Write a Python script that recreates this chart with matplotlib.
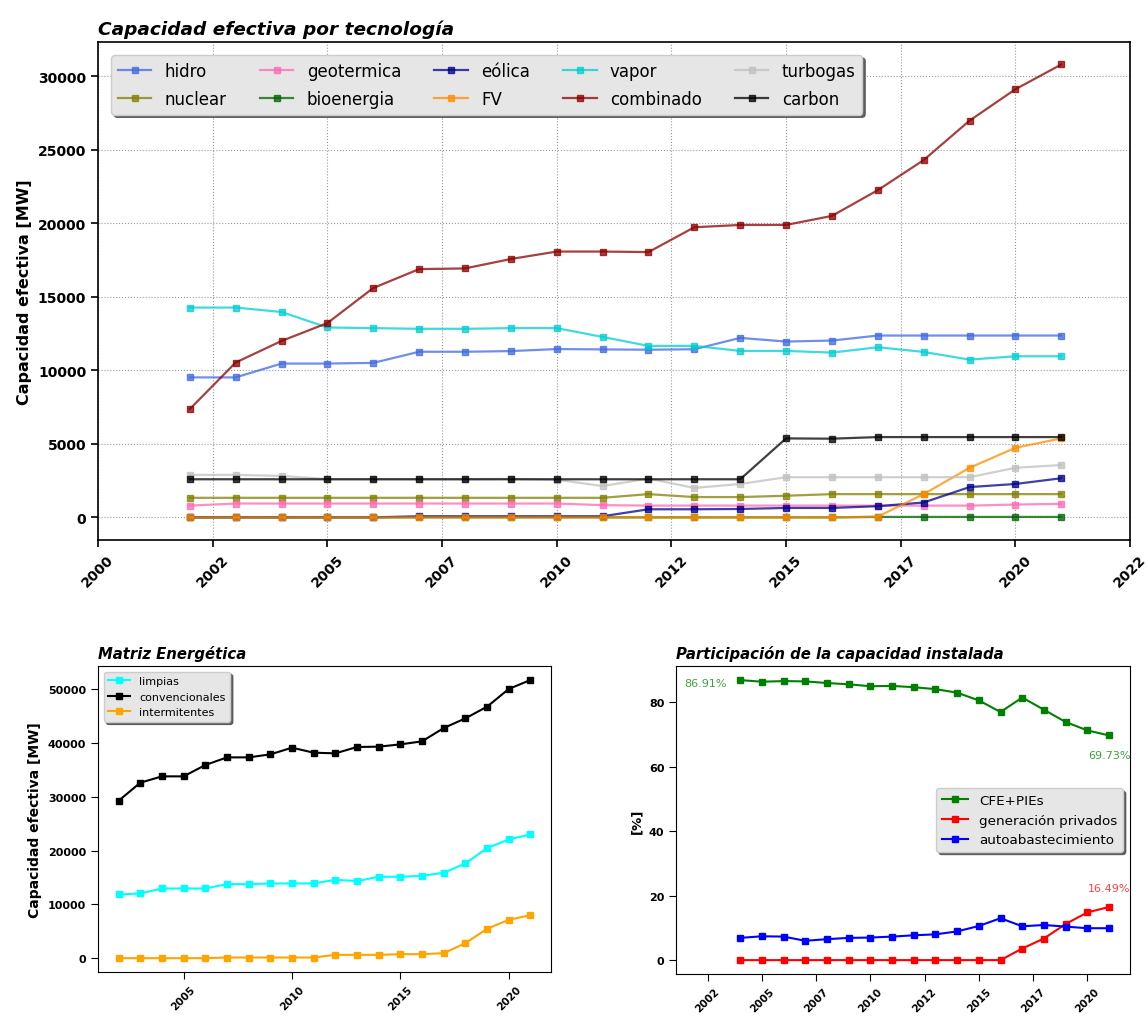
import numpy as np
import matplotlib
matplotlib.use('Agg')
import matplotlib.pyplot as plt
import matplotlib.ticker as mtick

years = list(range(2002, 2022))

# capacidad efectiva por tecnologia [MW]
hidro = [9518, 9518, 10459, 10459, 10505, 11262, 11262, 11307, 11445, 11422,
         11400, 11432, 12205, 11955, 12023, 12364, 12364, 12364, 12364, 12364]
geotermica = [800, 940, 940, 940, 940, 940, 940, 940, 940, 830,
              800, 800, 800, 800, 800, 800, 800, 800, 870, 920]
eolica = [2, 2, 2, 2, 2, 75, 75, 75, 75, 75,
          550, 550, 570, 640, 640, 760, 1010, 2060, 2270, 2660]
vapor = [14267, 14267, 13968, 12913, 12868, 12822, 12822, 12868, 12868, 12271,
         11660, 11660, 11318, 11318, 11205, 11568, 11250, 10727, 10955, 10955]
turbogas = [2890, 2890, 2820, 2600, 2600, 2600, 2600, 2620, 2560, 2130,
            2640, 2000, 2270, 2730, 2730, 2730, 2730, 2730, 3370, 3560]
nuclear = [1330, 1330, 1330, 1330, 1330, 1330, 1330, 1330, 1330, 1330,
           1580, 1380, 1380, 1470, 1580, 1580, 1580, 1580, 1580, 1580]
bioenergia = [0, 0, 0, 0, 0, 0, 0, 0, 0, 0,
              0, 0, 0, 0, 0, 30, 30, 30, 30, 30]
fv = [0, 0, 0, 0, 0, 0, 0, 0, 0, 0,
      0, 0, 0, 0, 0, 50, 1580, 3370, 4730, 5370]
combinado = [7362, 10528, 11996, 13212, 15597, 16882, 16928, 17570, 18075, 18075,
             18040, 19727, 19886, 19886, 20500, 22250, 24296, 26978, 29115, 30797]
carbon = [2590, 2590, 2590, 2590, 2590, 2590, 2590, 2590, 2590, 2590,
          2590, 2590, 2590, 5370, 5350, 5460, 5460, 5460, 5460, 5460]

# matriz energetica [MW]
limpias = [11850, 12030, 12960, 12960, 12960, 13770, 13770, 13890, 13890, 13890,
           14580, 14330, 15140, 15140, 15320, 15880, 17620, 20470, 22080, 23010]
convencionales = [29280, 32630, 33810, 33810, 35920, 37340, 37340, 37900, 39140, 38210,
                  38090, 39270, 39330, 39760, 40320, 42800, 44600, 46770, 50060, 51730]
intermitentes = [0, 0, 0, 0, 0, 120, 120, 120, 120, 120,
                 620, 620, 620, 740, 740, 930, 2790, 5460, 7130, 8000]

# participacion de la capacidad instalada [%]
years_part = list(range(2004, 2022))
cfe_pies = [86.91, 86.4, 86.6, 86.5, 86.0, 85.6, 85.0, 85.1, 84.7, 84.1,
            83.0, 80.6, 77.0, 81.5, 77.7, 73.9, 71.3, 69.73]
privados = [0, 0, 0, 0, 0, 0, 0, 0, 0, 0,
            0, 0, 0, 3.6, 6.7, 11.2, 14.8, 16.49]
autoabasto = [6.9, 7.4, 7.3, 6.0, 6.5, 6.9, 7.0, 7.3, 7.7, 8.0,
              8.9, 10.6, 13.0, 10.5, 10.9, 10.4, 9.9, 9.9]

year_fmt = mtick.FuncFormatter(lambda x, pos: str(int(np.floor(x))))
leg_kw = dict(shadow={'color': '#555555', 'alpha': 0.9}, facecolor='#e6e6e6',
              edgecolor='#cccccc', framealpha=1, fancybox=True)

fig = plt.figure(figsize=(11.48, 10.2), dpi=100)
ax1 = fig.add_axes([0.0854, 0.4696, 0.8990, 0.4884])
ax2 = fig.add_axes([0.0854, 0.046, 0.3946, 0.3])
ax3 = fig.add_axes([0.589, 0.044, 0.395, 0.302])

# --- capacidad por tecnologia
series = [('hidro', hidro, 'royalblue'), ('nuclear', nuclear, 'olive'),
          ('geotermica', geotermica, 'hotpink'), ('bioenergia', bioenergia, 'darkgreen'),
          ('eólica', eolica, 'darkblue'), ('FV', fv, 'darkorange'),
          ('vapor', vapor, 'darkturquoise'), ('combinado', combinado, 'darkred'),
          ('turbogas', turbogas, 'silver'), ('carbon', carbon, 'black')]
for name, vals, col in series:
    ax1.plot(years, vals, marker='s', markersize=4, lw=1.6, color=col, alpha=0.75, label=name)
ax1.set_xlim(2000, 2022.5)
ax1.set_xticks(np.arange(2000, 2022.6, 2.5))
ax1.xaxis.set_major_formatter(year_fmt)
ax1.grid(ls=':', color='gray', alpha=0.8)
ax1.set_title('Capacidad efectiva por tecnología', loc='left', fontsize=13.3,
              fontweight='bold', style='italic')
ax1.set_ylabel('Capacidad efectiva [MW]', fontsize=11.5, fontweight='bold')
ax1.legend(loc='upper left', ncol=5, fontsize=12, borderaxespad=0.8, labelspacing=0.6, **leg_kw)
ax1.tick_params(length=5, width=1.2)
for lab in ax1.get_xticklabels():
    lab.set_rotation(45)
for lab in ax1.get_xticklabels() + ax1.get_yticklabels():
    lab.set_fontweight('bold')
    lab.set_fontsize(10)
for sp in ax1.spines.values():
    sp.set_linewidth(1.2)

# --- matriz energetica
ax2.plot(years, limpias, marker='s', markersize=4, color='cyan', label='limpias')
ax2.plot(years, convencionales, marker='s', markersize=4, color='black', label='convencionales')
ax2.plot(years, intermitentes, marker='s', markersize=4, color='orange', label='intermitentes')
ax2.set_xticks([2005, 2010, 2015, 2020])
ax2.set_title('Matriz Energética', loc='left', fontsize=10.7, fontweight='bold', style='italic')
ax2.set_ylabel('Capacidad efectiva [MW]', fontsize=10, fontweight='bold')
ax2.legend(loc='upper left', fontsize=8, **leg_kw)
ax2.tick_params(length=5)
for lab in ax2.get_xticklabels():
    lab.set_rotation(45)
    lab.set_fontsize(7.5)
for lab in ax2.get_yticklabels():
    lab.set_fontsize(8)
for lab in ax2.get_xticklabels() + ax2.get_yticklabels():
    lab.set_fontweight('bold')

# --- participacion
ax3.plot(years_part, cfe_pies, marker='s', markersize=4, color='green', label='CFE+PIEs')
ax3.plot(years_part, privados, marker='s', markersize=4, color='red', label='generación privados')
ax3.plot(years_part, autoabasto, marker='s', markersize=4, color='blue', label='autoabastecimiento')
ax3.annotate(f'{cfe_pies[0]:.2f}%', (years_part[0], cfe_pies[0]), xytext=(-10, -2),
             textcoords='offset points', ha='right', va='center', color='green', alpha=0.75, fontsize=8)
ax3.annotate(f'{cfe_pies[-1]:.2f}%', (years_part[-1], cfe_pies[-1]), xytext=(0, -14),
             textcoords='offset points', ha='center', va='center', color='green', alpha=0.75, fontsize=8)
ax3.annotate(f'{privados[-1]:.2f}%', (years_part[-1], privados[-1]), xytext=(0, 14),
             textcoords='offset points', ha='center', va='center', color='red', alpha=0.75, fontsize=8)
ax3.set_xlim(2001.05, 2021.95)
ax3.set_xticks(np.arange(2002.5, 2021, 2.5))
ax3.xaxis.set_major_formatter(year_fmt)
ax3.set_title('Participación de la capacidad instalada', loc='left', fontsize=10.7,
              fontweight='bold', style='italic')
ax3.set_ylabel('[%]', fontsize=9.5, fontweight='bold')
ax3.legend(loc='center right', fontsize=9.7, **leg_kw)
ax3.tick_params(length=5)
for lab in ax3.get_xticklabels():
    lab.set_rotation(45)
    lab.set_fontsize(7.5)
for lab in ax3.get_yticklabels():
    lab.set_fontsize(8)
for lab in ax3.get_xticklabels() + ax3.get_yticklabels():
    lab.set_fontweight('bold')

fig.savefig('out.png', dpi=100)
